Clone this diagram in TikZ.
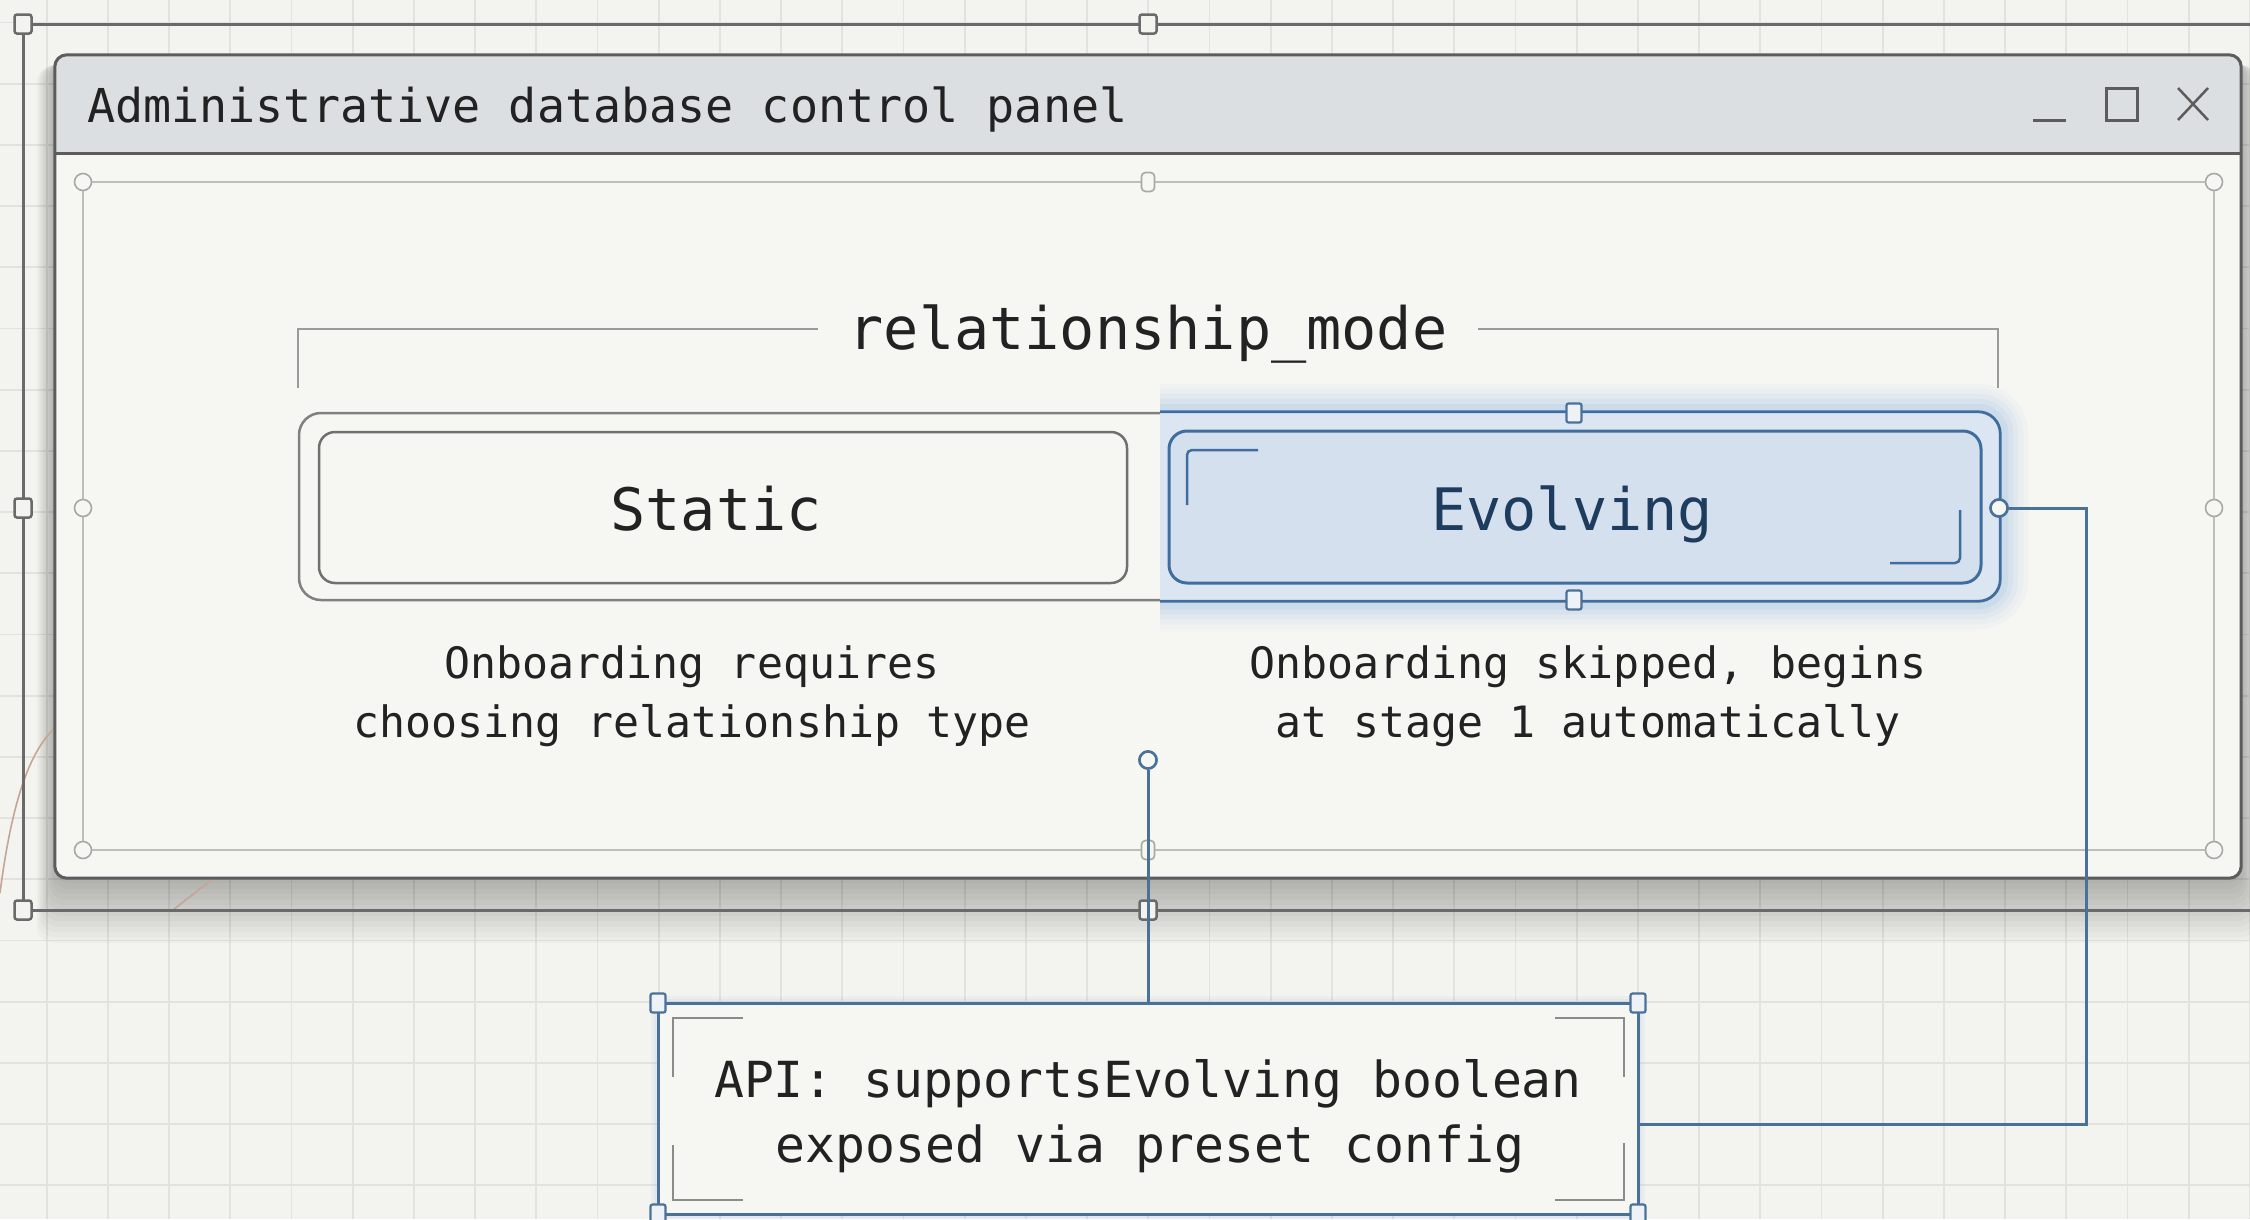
\documentclass[tikz,border=0pt]{standalone}
\usepackage{fontspec}
\setmonofont{DejaVu Sans Mono}
\definecolor{bgc}{HTML}{F3F3EF}
\definecolor{gridc}{HTML}{E2E2DE}
\definecolor{framec}{HTML}{6A6A6A}
\definecolor{winborder}{HTML}{5C5C5C}
\definecolor{titlec}{HTML}{DCDFE2}
\definecolor{winc}{HTML}{F6F6F3}
\definecolor{ifc}{HTML}{BDBDBA}
\definecolor{ihc}{HTML}{A8A8A6}
\definecolor{brkc}{HTML}{9A9A9A}
\definecolor{btnc}{HTML}{707070}
\definecolor{contc}{HTML}{808080}
\definecolor{blueline}{HTML}{4A7198}
\definecolor{evborder}{HTML}{3F6D9E}
\definecolor{evfill}{HTML}{D4E0EE}
\definecolor{glowblue}{HTML}{86AEE0}
\definecolor{insideblue}{HTML}{DCE6F2}
\definecolor{handlefill}{HTML}{EEF2F6}
\definecolor{txtc}{HTML}{222222}
\definecolor{evtxt}{HTML}{1E3D5E}
\definecolor{curvec}{HTML}{C4A596}
\begin{document}
\begin{tikzpicture}[x=1pt,y=-1pt,
  gridline/.style={draw=gridc, line width=1.8},
  selframe/.style={draw=framec, line width=3},
  shandle/.style={draw=framec, fill=bgc, line width=2.5, rounded corners=2.5, minimum width=17, minimum height=19, inner sep=0, shape=rectangle},
  ihandle/.style={draw=ihc, fill=winc, line width=1.6, circle, minimum size=17, inner sep=0},
  irhandle/.style={draw=ihc, fill=winc, line width=1.6, rounded corners=4, minimum width=13, minimum height=19, inner sep=0, shape=rectangle},
  bhandle/.style={draw=blueline, fill=handlefill, line width=2.2, rounded corners=2, minimum width=15, minimum height=19, inner sep=0, shape=rectangle},
  bcirc/.style={draw=blueline, fill=winc, line width=2.5, circle, minimum size=17, inner sep=0},
  conn/.style={draw=blueline, line width=3},
  brk/.style={draw=brkc, line width=2},
  apibrk/.style={draw=brkc!90!black, line width=2},
  evbrk/.style={draw=evborder, line width=2.5, rounded corners=5},
  titletxt/.style={font=\fontsize{46.7}{56}\selectfont\ttfamily, text=txtc, inner sep=0, anchor=base west},
  bigtxt/.style={font=\fontsize{58.5}{70}\selectfont\ttfamily, text=txtc, inner sep=0, anchor=base},
  captxt/.style={font=\fontsize{43.2}{52}\selectfont\ttfamily, text=txtc, inner sep=0, anchor=base},
  apitxt/.style={font=\fontsize{49.7}{60}\selectfont\ttfamily, text=txtc, inner sep=0, anchor=base},
  icon/.style={draw=winborder, line width=3}
]
\useasboundingbox (0,0) rectangle (2250,1219);
\clip (0,0) rectangle (2250,1219);
% background + grid
\fill[bgc] (0,0) rectangle (2250,1219);
\foreach \k in {0,...,36} \draw[gridline] ({46.7+61.2*\k},0) -- ({46.7+61.2*\k},1219);
\foreach \k in {0,...,19} \draw[gridline] (0,{22.5+61.2*\k}) -- (2250,{22.5+61.2*\k});

% window shadow
\foreach \k in {1,...,12}
  \fill[black, opacity=0.024, rounded corners=16] ({55-\k*1.5},{60+\k*0.5}) rectangle ({2241+\k*1.5},{878+\k*5.4});

% faint background curve
\draw[curvec, line width=1.6] (0,893) .. controls (12,800) and (30,750) .. (56,727);
\draw[curvec, line width=1.6] (173,910) .. controls (188,898) and (200,889) .. (214,878);

% selection frame
\draw[selframe] (2250,24) -- (23,24) -- (23,910) -- (2250,910);

% window
\node[fill=winc, minimum width=2186, minimum height=823, inner sep=0, rounded corners=12] (win) at (1148,466.5) {};
\begin{scope}
  \clip[rounded corners=12] (55,55) rectangle (2241,878);
  \fill[titlec] (55,55) rectangle (2241,153);
\end{scope}
\draw[winborder, line width=3] (55,153) -- (2241,153);
\draw[winborder, line width=3, rounded corners=12] (win.north west) rectangle (win.south east);
\node[titletxt] (title) at (87,122) {Administrative database control panel};
\draw[icon] (2033,120) -- (2066,120);
\draw[icon] (2106,88) rectangle (2137,120);
\draw[icon, line width=2.5] (2178,88) -- (2208,120) (2208,88) -- (2178,120);

% inner frame
\node[draw=ifc, line width=2, minimum width=2131, minimum height=668, inner sep=0] (iframe) at (1148.5,516) {};

% frame handles
\node[shandle] (h1) at (23,24) {};
\node[shandle] (h2) at (1148,24) {};
\node[shandle] (h3) at (23,508) {};
\node[shandle] (h4) at (23,910) {};
\node[shandle] (h5) at (1148,910) {};
% inner frame handles
\node[ihandle] (i1) at (83,182) {};
\node[ihandle] (i2) at (2214,182) {};
\node[ihandle] (i3) at (83,850) {};
\node[ihandle] (i4) at (2214,850) {};
\node[ihandle] (i5) at (83,508) {};
\node[ihandle] (i6) at (2214,508) {};
\node[irhandle] (i7) at (1148,182) {};
\node[irhandle] (i8) at (1148,850) {};

% relationship_mode label + bracket
\node[bigtxt] (mode) at (1148,349) {relationship\_mode};
\draw[brk] (298,388) -- (298,329) -- (818,329);
\draw[brk] (1478,329) -- (1998,329) -- (1998,388);

% toggle container
\node[draw=contc, line width=2.5, rounded corners=22, minimum width=1700, minimum height=187, inner sep=0] (toggle) at (1149,506.5) {};
\begin{scope}
  \clip (1160,300) rectangle (2120,720);
  \foreach \w/\o in {56/0.05,46/0.06,36/0.08,26/0.10,16/0.13}
    \draw[glowblue, line width=\w, opacity=\o, rounded corners=22] (toggle.north west) rectangle (toggle.south east);
  \fill[insideblue, rounded corners=22] (toggle.north west) rectangle (toggle.south east);
  \draw[evborder, line width=2.8, rounded corners=22] (toggle.north west) rectangle (toggle.south east);
\end{scope}

% buttons
\node[draw=btnc, line width=2.5, rounded corners=16, fill=winc, minimum width=808, minimum height=151, inner sep=0] (static) at (723,507.5) {};
\node[draw=evborder, line width=3, rounded corners=18, fill=evfill, minimum width=812, minimum height=152, inner sep=0] (evolving) at (1575,507) {};
\draw[evbrk] (1187,505) -- (1187,450) -- (1258,450);
\draw[evbrk] (1960,510) -- (1960,563) -- (1890,563);
\node[bigtxt] (statictxt) at (716,530) {Static};
\node[bigtxt, text=evtxt] (evtxtnode) at (1572,530) {Evolving};

% container handles
\node[bhandle] (c1) at (1574,413) {};
\node[bhandle] (c2) at (1574,600) {};

% captions
\node[captxt] (capl1) at (692,678) {Onboarding requires};
\node[captxt] (capl2) at (692,737) {choosing relationship type};
\node[captxt] (capr1) at (1588,678) {Onboarding skipped, begins};
\node[captxt] (capr2) at (1588,737) {at stage 1 automatically};

% API box
\foreach \w/\o in {14/0.06,8/0.10}
  \draw[glowblue, line width=\w, opacity=\o] (658,1003) rectangle (1638,1214);
\node[draw=blueline, line width=3, fill=winc, minimum width=980, minimum height=211, inner sep=0] (api) at (1148,1108.5) {};
\draw[apibrk] (673,1077) -- (673,1018) -- (743,1018);
\draw[apibrk] (673,1145) -- (673,1200) -- (743,1200);
\draw[apibrk] (1555,1018) -- (1624,1018) -- (1624,1077);
\draw[apibrk] (1555,1200) -- (1624,1200) -- (1624,1143);
\node[apitxt] (api1) at (1148,1097) {API: supportsEvolving boolean};
\node[apitxt] (api2) at (1150,1162) {exposed via preset config};

% connectors
\node[bcirc] (apicirc) at (1148,760) {};
\node[bcirc] (evcirc) at (1999,508) {};
\coordinate (bend) at (2086,1124);
\coordinate (apiR) at (1638,1124);
\draw[conn] (apicirc.south) -- (api.north);
\draw[conn] (evcirc.east) -| (bend) -- (apiR);
\node[bcirc] at (apicirc) {};
\node[bcirc] at (evcirc) {};

% API handles
\node[bhandle] (a1) at (658,1003) {};
\node[bhandle] (a2) at (1638,1003) {};
\node[bhandle] (a3) at (658,1214) {};
\node[bhandle] (a4) at (1638,1214) {};
\end{tikzpicture}
\end{document}
